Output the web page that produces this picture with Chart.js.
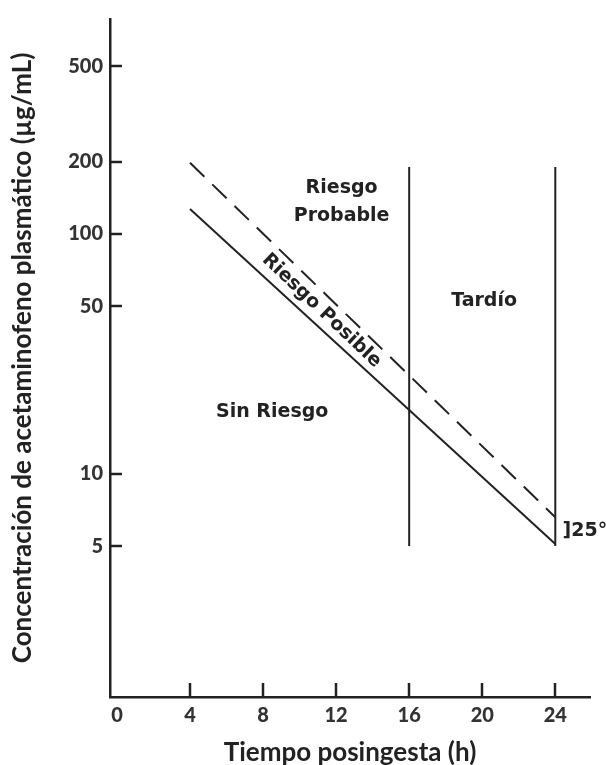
<!DOCTYPE html>
<html><head><meta charset="utf-8">
<script src="https://cdn.jsdelivr.net/npm/chart.js@4.4.1/dist/chart.umd.min.js"></script>
<style>html,body{margin:0;padding:0;background:#fff;}#wrap{width:606px;height:765px;}</style>
</head><body><div id="wrap"><canvas id="c" width="606" height="765"></canvas></div>
<script>
// ---- data ----
const xTicks = [0, 4, 8, 12, 16, 20, 24];
const yTicks = [5, 10, 50, 100, 200, 500];
const hours = [4, 24];
const lineSolid = [127, 5.1];     // línea inferior (continua)
const lineDashed = [198, 6.6];    // línea superior (discontinua)
const cutHours = [16, 24];        // líneas verticales
const cutTop = 190;
const cutBottom = 5;

const labels = [
  {text: ['Riesgo', 'Probable'], x: 12.3, y: 136, rot: 0},
  {text: ['Tardío'], x: 20.1, y: 52.5, rot: 0},
  {text: ['Sin Riesgo'], x: 8.5, y: 18.1, rot: 0},
  {text: ['Riesgo Posible'], x: 11.2, y: 47.9, rot: 43.5},
  {text: [']25°'], x: 24.4, y: 5.77, rot: 0, align: 'left'}
];

const INK = '#222';
const pts = (xs, ys) => xs.map((x, i) => ({x: x, y: ys[i]}));

const datasets = [
  {data: pts(hours, lineSolid), borderColor: INK, borderWidth: 2, pointRadius: 0},
  {data: pts(hours, lineDashed), borderColor: INK, borderWidth: 2, borderDash: [20, 11], pointRadius: 0}
];
cutHours.forEach(h => datasets.push({data: pts([h, h], [cutBottom, cutTop]), borderColor: INK, borderWidth: 2, pointRadius: 0}));

const innerTicks = {
  id: 'innerTicks',
  afterDraw(chart) {
    const {ctx, chartArea: a, scales: {x, y}} = chart;
    ctx.save();
    ctx.strokeStyle = INK; ctx.lineWidth = 2.5;
    yTicks.forEach(v => { const p = Math.round(y.getPixelForValue(v)); ctx.beginPath(); ctx.moveTo(a.left, p); ctx.lineTo(a.left + 12, p); ctx.stroke(); });
    xTicks.forEach(v => { if (v === 0) return; const p = Math.round(x.getPixelForValue(v)); ctx.beginPath(); ctx.moveTo(p, a.bottom); ctx.lineTo(p, a.bottom - 14); ctx.stroke(); });
    ctx.restore();
  }
};

const textLabels = {
  id: 'textLabels',
  afterDatasetsDraw(chart) {
    const {ctx, scales: {x, y}} = chart;
    ctx.save();
    ctx.fillStyle = INK;
    ctx.font = 'bold 19px "DejaVu Sans"';
    ctx.textBaseline = 'middle';
    labels.forEach(l => {
      const px = x.getPixelForValue(l.x), py = y.getPixelForValue(l.y);
      ctx.save();
      ctx.translate(px, py);
      ctx.rotate(l.rot * Math.PI / 180);
      ctx.textAlign = l.align || 'center';
      const lh = 28, n = l.text.length;
      l.text.forEach((t, i) => ctx.fillText(t, 0, (i - (n - 1) / 2) * lh));
      ctx.restore();
    });
    ctx.restore();
  }
};

const tickFont = {family: 'Lato', weight: '900', size: 20};
const titleFont = {family: 'Lato', weight: 'bold', size: 26};

new Chart(document.getElementById('c'), {
  type: 'line',
  data: {datasets: datasets},
  options: {
    responsive: false, animation: false,
    layout: {padding: {top: 14, right: 16, left: 0, bottom: 0}},
    plugins: {legend: {display: false}, tooltip: {enabled: false}},
    scales: {
      x: {
        type: 'linear', min: -0.38, max: 25.9,
        afterBuildTicks: s => { s.ticks = xTicks.map(v => ({value: v})); },
        afterFit: s => { s.height = 68; },
        grid: {drawOnChartArea: false, drawTicks: false},
        border: {display: true, color: INK, width: 2.5},
        ticks: {padding: 7, color: '#333', font: tickFont, maxRotation: 0, autoSkip: false},
        title: {display: true, text: 'Tiempo posingesta (h)', color: '#222', font: titleFont, padding: {top: 0, bottom: -3}}
      },
      y: {
        type: 'logarithmic', min: 1.175, max: 787,
        afterBuildTicks: s => { s.ticks = yTicks.map(v => ({value: v})); },
        afterFit: s => { s.width = 110; },
        grid: {drawOnChartArea: false, drawTicks: false},
        border: {display: true, color: INK, width: 2.5},
        ticks: {padding: 7, color: '#333', font: tickFont, callback: v => String(v), autoSkip: false},
        title: {display: true, text: 'Concentración de acetaminofeno plasmático (µg/mL)', color: '#222', font: titleFont, padding: {top: 7, bottom: 0}}
      }
    }
  },
  plugins: [innerTicks, textLabels]
});
</script></body></html>
